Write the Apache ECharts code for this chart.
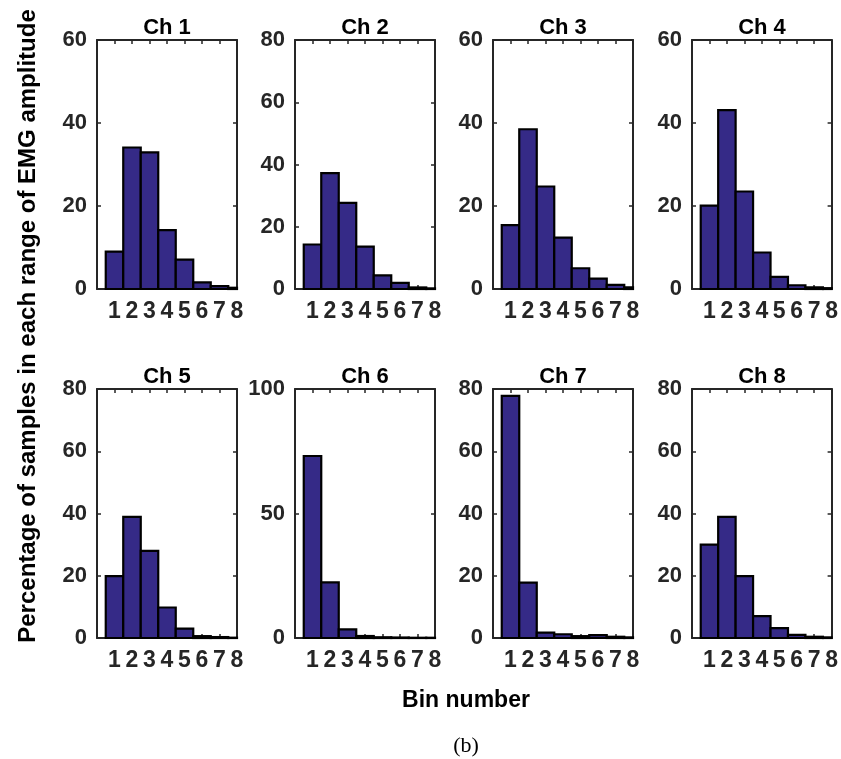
<!DOCTYPE html>
<html>
<head>
<meta charset="utf-8">
<script src="https://cdn.jsdelivr.net/npm/echarts@6/dist/echarts.min.js"></script>
<style>
  html, body { margin: 0; padding: 0; background: #ffffff; }
  #chart { width: 841px; height: 759px; }
</style>
</head>
<body>
<div id="chart"></div>
<script>
// Histogram of EMG amplitude per channel: percentage of samples in each bin
const bins = [1, 2, 3, 4, 5, 6, 7, 8];
const binTickLabels = ['1', '2', '3', '4', '5', '6', '7', '8'];

const ch1 = [9.0, 34.1, 32.9, 14.2, 7.1, 1.6, 0.7, 0.3];
const ch2 = [14.3, 37.2, 27.7, 13.6, 4.4, 2.0, 0.5, 0.2];
const ch3 = [15.4, 38.5, 24.7, 12.4, 5.0, 2.5, 1.0, 0.4];
const ch4 = [20.1, 43.1, 23.5, 8.8, 2.9, 0.9, 0.4, 0.2];
const ch5 = [19.9, 38.9, 28.0, 9.8, 3.0, 0.6, 0.3, 0.1];
const ch6 = [73.1, 22.3, 3.5, 0.8, 0.3, 0.2, 0.1, 0.1];
const ch7 = [77.8, 17.8, 1.7, 1.2, 0.6, 0.9, 0.4, 0.2];
const ch8 = [30.0, 38.9, 19.9, 7.0, 3.2, 1.0, 0.4, 0.2];

const channelNames = ['Ch 1', 'Ch 2', 'Ch 3', 'Ch 4', 'Ch 5', 'Ch 6', 'Ch 7', 'Ch 8'];
const channelValues = [ch1, ch2, ch3, ch4, ch5, ch6, ch7, ch8];
const yMaxes = [60, 80, 60, 60, 80, 100, 80, 80];
const yIntervals = [20, 20, 20, 20, 20, 50, 20, 20];

const axisLabel = 'Percentage of samples in each range of EMG amplitude';
const xAxisTitle = 'Bin number';
const panelTag = '(b)';

// panel geometry
const colLefts = [97, 295, 493, 692];
const rowTops = [40, 389];
const panelW = 140;
const panelH = 249;

const AXIS_COLOR = '#262626';
const BAR_COLOR = '#352A87';
const FONT = '"Liberation Sans", Arial, sans-serif';

const grids = [], xAxes = [], yAxes = [], series = [], graphics = [];

channelValues.forEach(function (vals, i) {
  const col = i % 4, row = Math.floor(i / 4);
  const left = colLefts[col], top = rowTops[row];
  grids.push({ left: left, top: top, width: panelW, height: panelH, containLabel: false });

  const lineStyle = { color: AXIS_COLOR, width: 2 };
  const tick = { show: true, inside: true, length: 4, lineStyle: { color: AXIS_COLOR, width: 1.5 } };

  // bottom and top x axes (box outline with inward ticks)
  xAxes.push({
    gridIndex: i, type: 'value', min: 0, max: 8, interval: 1, position: 'bottom',
    axisLine: { show: true, onZero: false, lineStyle: lineStyle },
    axisTick: tick, splitLine: { show: false },
    axisLabel: {
      show: true, margin: 11, color: AXIS_COLOR, fontSize: 23, fontWeight: 'bold', fontFamily: FONT,
      formatter: function (v) { const k = bins.indexOf(v); return k >= 0 ? binTickLabels[k] : ''; }
    }
  });
  xAxes.push({
    gridIndex: i, type: 'value', min: 0, max: 8, interval: 1, position: 'top',
    axisLine: { show: true, onZero: false, lineStyle: lineStyle },
    axisTick: tick, splitLine: { show: false }, axisLabel: { show: false }
  });
  // left and right y axes
  yAxes.push({
    gridIndex: i, type: 'value', min: 0, max: yMaxes[i], interval: yIntervals[i], position: 'left',
    axisLine: { show: true, onZero: false, lineStyle: lineStyle },
    axisTick: tick, splitLine: { show: false },
    axisLabel: { show: true, margin: 10, color: AXIS_COLOR, fontSize: 22, fontWeight: 'bold', fontFamily: FONT }
  });
  yAxes.push({
    gridIndex: i, type: 'value', min: 0, max: yMaxes[i], interval: yIntervals[i], position: 'right',
    axisLine: { show: true, onZero: false, lineStyle: lineStyle },
    axisTick: tick, splitLine: { show: false }, axisLabel: { show: false }
  });

  // unit-width histogram bars centred on each bin, clipped to the axes box
  series.push({
    type: 'custom',
    xAxisIndex: 2 * i, yAxisIndex: 2 * i,
    data: bins.map(function (b, k) { return [b, vals[k]]; }),
    renderItem: function (params, api) {
      const x = api.value(0), y = api.value(1);
      const p0 = api.coord([x - 0.5, y]);
      const p1 = api.coord([x + 0.5, 0]);
      const cs = params.coordSys;
      const shape = echarts.graphic.clipRectByRect(
        { x: p0[0], y: p0[1], width: p1[0] - p0[0], height: p1[1] - p0[1] },
        { x: cs.x, y: cs.y, width: cs.width, height: cs.height }
      );
      if (!shape) return null;
      return {
        type: 'rect', shape: shape,
        style: { fill: BAR_COLOR, stroke: '#000000', lineWidth: 2.2 }
      };
    },
    z: 2
  });

  // panel title
  graphics.push({
    type: 'text', x: left + panelW / 2, y: top - 1,
    style: {
      text: channelNames[i], align: 'center', verticalAlign: 'bottom',
      fontSize: 22, fontWeight: 'bold', fontFamily: FONT, fill: '#000000'
    }
  });
});

// shared axis titles and panel tag
graphics.push({
  type: 'text', x: 28, y: 326, rotation: Math.PI / 2,
  style: {
    text: axisLabel, align: 'center', verticalAlign: 'middle',
    fontSize: 24, fontWeight: 'bold', fontFamily: FONT, fill: '#000000'
  }
});
graphics.push({
  type: 'text', x: 466, y: 701,
  style: {
    text: xAxisTitle, align: 'center', verticalAlign: 'middle',
    fontSize: 23, fontWeight: 'bold', fontFamily: FONT, fill: '#000000'
  }
});
graphics.push({
  type: 'text', x: 466, y: 746,
  style: {
    text: panelTag, align: 'center', verticalAlign: 'middle',
    fontSize: 22, fontFamily: '"Liberation Serif", "Times New Roman", serif', fill: '#000000'
  }
});

const chart = echarts.init(document.getElementById('chart'), null, { renderer: 'canvas' });
chart.setOption({
  animation: false,
  backgroundColor: '#ffffff',
  grid: grids,
  xAxis: xAxes,
  yAxis: yAxes,
  series: series,
  graphic: graphics
});
</script>
</body>
</html>
